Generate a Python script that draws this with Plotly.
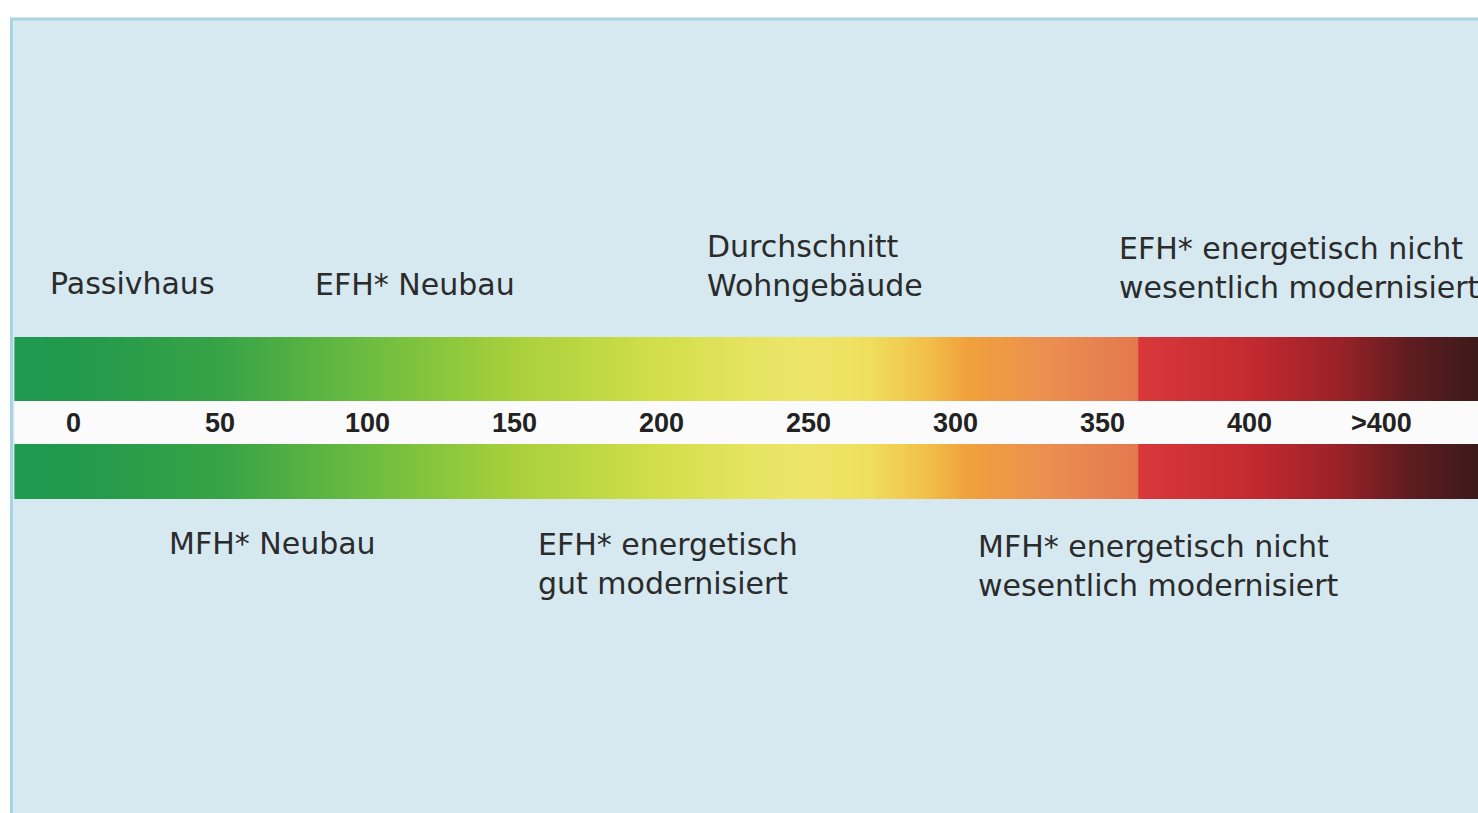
import numpy as np
import plotly.graph_objects as go

# --- scale (kWh per m² and year) ---------------------------------------
tick_values = [0, 50, 100, 150, 200, 250, 300, 350, 400, 445]
tick_labels = ["0", "50", "100", "150", "200", "250", "300", "350", "400", ">400"]

# colour ramp stops along the scale
stop_values = [-20, 0, 50, 100, 130, 150, 200, 230, 250, 270, 290, 305, 330, 362, 362.6, 400, 430, 455, 478]
stop_colors = ["#1f9a4f", "#22994c", "#37a346", "#6cbc40", "#8fc83c", "#a8d03c",
               "#d2df4a", "#e6e460", "#ede56a", "#f0df5e", "#f2c04a", "#f0a03c",
               "#ec9050", "#e4784e", "#d8383a", "#c42a30", "#9a2228", "#5e1c20", "#3c1a1a"]

# building categories
upper_texts = ["Passivhaus", "EFH* Neubau", "Durchschnitt<br>Wohngebäude",
               "EFH* energetisch nicht<br>wesentlich modernisiert"]
upper_values = [-8.5, 81.5, 215, 355]
lower_texts = ["MFH* Neubau", "EFH* energetisch<br>gut modernisiert",
               "MFH* energetisch nicht<br>wesentlich modernisiert"]
lower_values = [32, 157.5, 307]

# --- layout constants ----------------------------------------------------
W, H = 1478, 813
X_RANGE = [-24.9, 477.9]
Y_RANGE = [813, 0]          # vertical in page pixels
upper_y = [283, 284, 266, 268]
lower_y = [543, 564, 566]
tick_y = 423
top_bar = [337, 401]
bottom_bar = [444, 499]

zmin, zmax = stop_values[0], stop_values[-1]
colorscale = [[(v - zmin) / (zmax - zmin), c] for v, c in zip(stop_values, stop_colors)]

edges = np.linspace(zmin, zmax, 1201)
mids = (edges[:-1] + edges[1:]) / 2

fig = go.Figure()
for ys in (top_bar, bottom_bar):
    fig.add_trace(go.Heatmap(
        x=edges, y=ys, z=[mids], colorscale=colorscale, zmin=zmin, zmax=zmax,
        showscale=False, hoverinfo="skip"))

shapes = [
    dict(type="rect", xref="paper", yref="y", x0=11.5 / W, x1=1.02, y0=19, y1=830,
         fillcolor="#d6e9f1", line=dict(color="#a7d3e2", width=3), layer="below"),
    dict(type="rect", xref="x", yref="y", x0=zmin, x1=zmax + 5, y0=400, y1=445,
         fillcolor="#fbfbfb", line=dict(width=0), layer="below"),
]

annotations = []
for v, t in zip(tick_values, tick_labels):
    annotations.append(dict(x=v, y=tick_y, xref="x", yref="y", text=t, showarrow=False,
                            xanchor="center", yanchor="middle",
                            font=dict(family="Liberation Sans, Arial", size=27,
                                      color="#222222", weight="bold")))
for t, v, yy in list(zip(upper_texts, upper_values, upper_y)) + list(zip(lower_texts, lower_values, lower_y)):
    annotations.append(dict(x=v, y=yy, xref="x", yref="y", text=t, showarrow=False,
                            xanchor="left", yanchor="middle", align="left",
                            font=dict(family="DejaVu Sans", size=30, color="#2b2b2b")))

fig.update_layout(
    width=W, height=H, margin=dict(l=0, r=0, t=0, b=0),
    paper_bgcolor="white", plot_bgcolor="white",
    xaxis=dict(range=X_RANGE, visible=False, fixedrange=True),
    yaxis=dict(range=Y_RANGE, visible=False, fixedrange=True),
    shapes=shapes, annotations=annotations, showlegend=False,
)

fig.write_html("out.html", config={"displayModeBar": False},
               post_script="document.body.style.margin='0';document.body.style.overflow='hidden';")
